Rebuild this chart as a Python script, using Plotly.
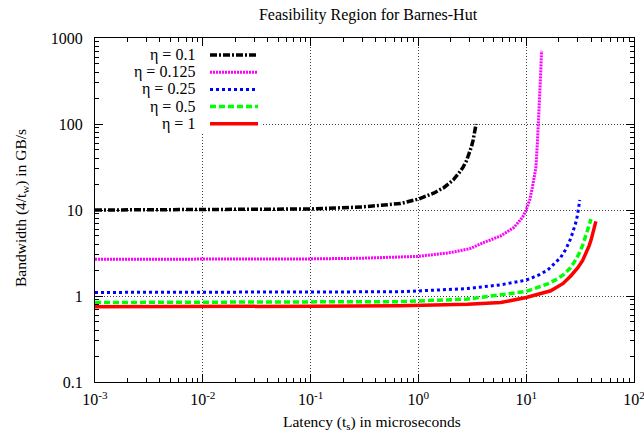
import plotly.graph_objects as go

# ---------------- data ----------------
series_names = ["η = 0.1", "η = 0.125", "η = 0.25", "η = 0.5", "η = 1"]

lat_eta_0_1 = [0.001, 0.01, 0.1, 0.3, 0.685, 1.0, 1.4, 1.73, 2.1, 2.38, 2.6, 2.8, 2.98, 3.1, 3.21, 3.33, 3.43]
bw_eta_0_1 = [10.0, 10.03, 10.27, 10.85, 11.9, 13.4, 15.8, 18.3, 22.3, 27.0, 31.5, 37.7, 46.0, 54.0, 64.0, 79.0, 100.0]

lat_eta_0_125 = [0.001, 0.01, 0.1, 0.3, 0.685, 1.0, 2.0, 3.0, 4.06, 5.81, 7.72, 9.24, 10.0, 10.8, 11.4, 11.9, 12.3, 12.7, 13.1, 13.5, 13.9]
bw_eta_0_125 = [2.67, 2.68, 2.70, 2.75, 2.82, 2.89, 3.2, 3.55, 4.2, 5.0, 6.3, 8.2, 10.0, 13.2, 18.3, 24.0, 31.0, 60.0, 120.0, 300.0, 711.0]

lat_eta_0_25 = [0.001, 0.01, 0.1, 0.685, 2.85, 5.81, 10.0, 13.0, 15.8, 18.5, 20.9, 23.0, 25.0, 26.5, 27.8, 29.0, 29.9, 30.7, 31.4]
bw_eta_0_25 = [1.10, 1.10, 1.11, 1.12, 1.22, 1.35, 1.53, 1.75, 2.0, 2.4, 2.81, 3.4, 4.2, 5.1, 6.0, 7.3, 8.7, 10.7, 13.1]

lat_eta_0_5 = [0.001, 0.01, 0.1, 0.685, 2.85, 10.0, 15.8, 19.5, 22.5, 25.5, 27.8, 30.5, 33.3, 35.5, 37.1, 38.6, 39.8]
bw_eta_0_5 = [0.84, 0.85, 0.85, 0.86, 0.92, 1.13, 1.38, 1.58, 1.80, 2.1, 2.46, 3.0, 3.85, 4.8, 5.74, 6.8, 7.86]

lat_eta_1 = [0.001, 0.01, 0.1, 0.685, 2.85, 5.81, 10.0, 16.9, 22.0, 26.0, 30.0, 33.3, 36.0, 38.4, 40.0, 41.2, 42.8, 44.3]
bw_eta_1 = [0.75, 0.75, 0.76, 0.77, 0.80, 0.84, 0.96, 1.15, 1.40, 1.72, 2.12, 2.57, 3.15, 3.85, 4.5, 5.26, 6.2, 7.37]

x_tick_vals = [1e-3, 1e-2, 1e-1, 1e0, 1e1, 1e2]
x_tick_text = ["10<sup>-3</sup>", "10<sup>-2</sup>", "10<sup>-1</sup>", "10<sup>0</sup>", "10<sup>1</sup>", "10<sup>2</sup>"]
y_tick_vals = [0.1, 1, 10, 100, 1000]
y_tick_text = ["0.1", "1", "10", "100", "1000"]

# ---------------- styles ----------------
colors = ["#000000", "#ff00ff", "#0000ff", "#00ff00", "#ff0000"]
dashes = ["7px,2px,2px,2px", "2px,1px", "3px,3px", "6px,3px", "solid"]
widths = [3.5, 3, 3, 3.5, 3.5]

xs = [lat_eta_0_1, lat_eta_0_125, lat_eta_0_25, lat_eta_0_5, lat_eta_1]
ys = [bw_eta_0_1, bw_eta_0_125, bw_eta_0_25, bw_eta_0_5, bw_eta_1]

FONT = "Liberation Serif, Times New Roman, serif"

fig = go.Figure()
for name, x, y, c, d, w in zip(series_names, xs, ys, colors, dashes, widths):
    fig.add_trace(go.Scatter(x=x, y=y, mode="lines", name=name, showlegend=False,
                             line=dict(color=c, dash=d, width=w)))

W, H = 644, 437
L, R, T, B = 95, 10, 38, 55
pw, ph = W - L - R, H - T - B

def px_x(p):
    return (p - L) / pw

def px_y(p):
    return (H - B - p) / ph

# minor ticks
x_minor = [m * 10.0 ** e for e in range(-3, 2) for m in range(2, 10)]
y_minor = [m * 10.0 ** e for e in range(-1, 3) for m in range(2, 10)]

axis_common = dict(
    type="log", showline=True, linecolor="black", linewidth=1.2, mirror="allticks",
    ticks="inside", ticklen=8, tickcolor="black", tickwidth=1,
    showgrid=True, gridcolor="rgba(0,0,0,0.75)", griddash="1px,2px", gridwidth=1,
    zeroline=False, tickfont=dict(family=FONT, size=16, color="black"),
    ticklabeloverflow="allow", automargin=False,
)

fig.update_xaxes(range=[-3, 2], tickvals=x_tick_vals, ticktext=x_tick_text,
                 minor=dict(tickvals=x_minor, ticks="inside", ticklen=4, tickcolor="black", showgrid=False),
                 ticklabelstandoff=3, **axis_common)
fig.update_yaxes(range=[-1, 3], tickvals=y_tick_vals, ticktext=y_tick_text,
                 minor=dict(tickvals=y_minor, ticks="inside", ticklen=4, tickcolor="black", showgrid=False),
                 ticklabelstandoff=8, **axis_common)

shapes = []
annotations = []
# opaque key box (hides the grid behind the key, keeps axis ticks visible)
shapes.append(dict(type="rect", xref="paper", yref="paper", x0=px_x(104), x1=px_x(263),
                   y0=px_y(133), y1=px_y(47),
                   fillcolor="white", line=dict(width=0), layer="above"))
key_rows = [55, 72.2, 89.4, 106.6, 123.8]
for name, c, d, w, row in zip(series_names, colors, dashes, widths, key_rows):
    shapes.append(dict(type="line", xref="paper", yref="paper", x0=px_x(210), x1=px_x(258),
                       y0=px_y(row), y1=px_y(row), line=dict(color=c, dash=d, width=w), layer="above"))
    annotations.append(dict(text=name, xref="paper", yref="paper", x=px_x(197), y=px_y(row),
                            xanchor="right", yanchor="middle", showarrow=False,
                            font=dict(family=FONT, size=16, color="black")))

# axis titles
annotations.append(dict(text="Latency (t<sub>s</sub>) in microseconds", xref="paper", yref="paper",
                        x=px_x(372), y=px_y(422), xanchor="center", yanchor="middle", showarrow=False,
                        font=dict(family=FONT, size=15.5, color="black")))
annotations.append(dict(text="Bandwidth (4/t<sub>w</sub>) in GB/s", xref="paper", yref="paper",
                        x=px_x(21), y=px_y(208), xanchor="center", yanchor="middle", textangle=-90,
                        showarrow=False, font=dict(family=FONT, size=15.5, color="black")))

fig.update_layout(
    width=W, height=H, margin=dict(l=L, r=R, t=T, b=B, autoexpand=False),
    paper_bgcolor="white", plot_bgcolor="white",
    title=dict(text="Feasibility Region for Barnes-Hut", x=368 / W, xanchor="center",
               y=1 - 14 / H, yanchor="middle", yref="container",
               font=dict(family=FONT, size=16, color="black")),
    shapes=shapes, annotations=annotations, showlegend=False,
)

fig.write_html("out.html")
